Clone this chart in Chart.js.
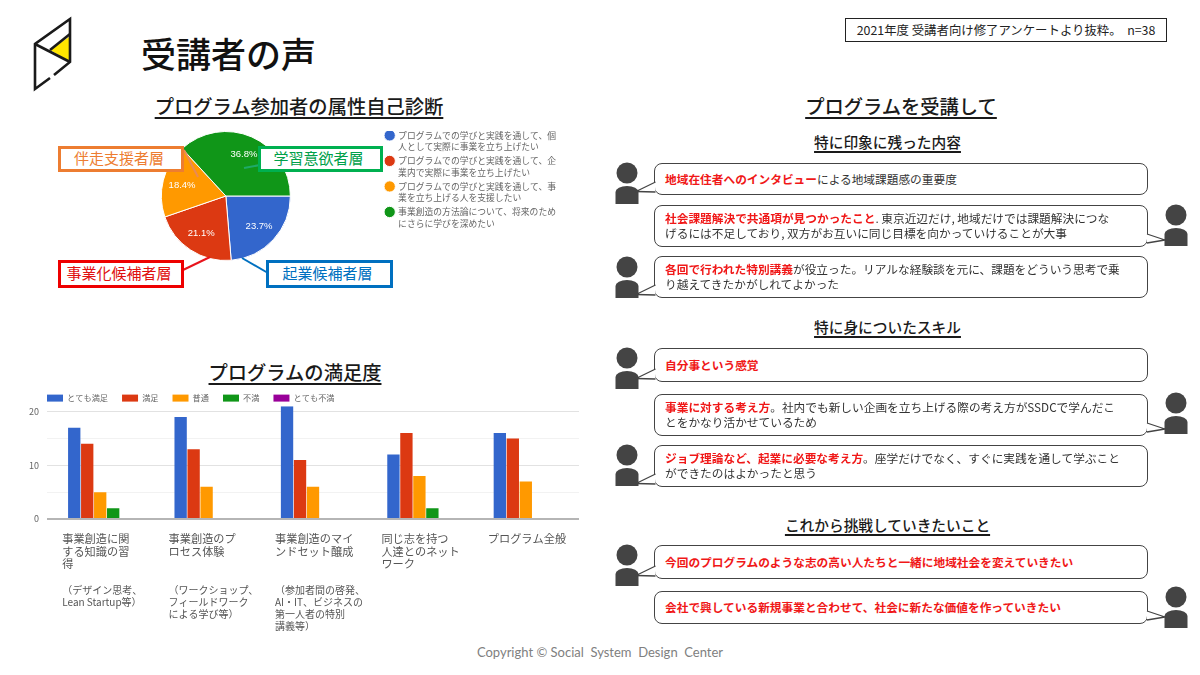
<!DOCTYPE html>
<html lang="ja">
<head>
<meta charset="utf-8">
<title>受講者の声</title>
<script src="https://cdn.jsdelivr.net/npm/chart.js@4/dist/chart.umd.min.js"></script>
<style>
  html, body { margin: 0; padding: 0; background: #fff; }
  body { position: relative; width: 1200px; height: 675px; overflow: hidden; font-family: "Noto Sans CJK JP", "Noto Sans", sans-serif; color: #222; }
  .abs { position: absolute; white-space: nowrap; }
  .head { text-decoration: underline; text-underline-offset: 3px; text-decoration-thickness: 1.5px; color: #1a1a1a; transform: translateX(-50%); }
  .h1 { font-size: 19.3px; line-height: 24px; font-weight: 500; }
  .h2 { font-size: 14.7px; line-height: 20px; font-weight: 500; }
  .tag { box-sizing: border-box; background: #fff; border: 3px solid; text-align: center; font-size: 15px; padding-right: 4px; }
  .bubble { position: absolute; left: 654px; width: 494px; box-sizing: border-box; background: #fff; border: 1.5px solid #444; border-radius: 8px; padding: 0 0 2px 10px; font-size: 11.7px; line-height: 15px; color: #333; display: flex; flex-direction: column; justify-content: center; white-space: nowrap; z-index: 2; }
  .bubble b { color: #f01818; font-weight: 700; }
  canvas { position: absolute; }
  svg { position: absolute; left: 0; top: 0; }
</style>
</head>
<body>
<!-- logo -->
<svg width="1200" height="675" style="z-index:1">
  <polygon points="69,37 50,50 69,61" fill="#ffe600"/>
  <g fill="none" stroke="#1a1a1a" stroke-width="2.6">
    <polyline points="54,75 70,62 70,19 35,44 35,89 50,78"/>
    <polyline points="35,44 70,62"/>
    <polyline points="70,34 50,50"/>
  </g>
</svg>
<div class="abs" style="left:141px;top:29px;font-size:35px;line-height:48px;font-weight:500;color:#111">受講者の声</div>
<div class="abs" style="left:845px;top:18px;width:322px;height:24px;box-sizing:border-box;border:1px solid #222;text-align:center;font-size:12.4px;line-height:22px">2021年度 受講者向け修了アンケートより抜粋。 &nbsp;n=38</div>

<div class="abs head h1" style="left:299px;top:94px">プログラム参加者の属性自己診断</div>
<div class="abs head h1" style="left:295px;top:360px">プログラムの満足度</div>
<div class="abs head h1" style="left:901px;top:94px">プログラムを受講して</div>

<canvas id="pieChart" style="left:69px;top:131px" width="497" height="130"></canvas>
<svg id="pieLines" width="1200" height="675" style="z-index:3">
  <g fill="none" stroke-width="2">
    <line x1="184" y1="150" x2="198" y2="177" stroke="#e98a56"/>
    <line x1="244" y1="168" x2="260" y2="165" stroke="#1faa6a"/>
    <line x1="183" y1="270" x2="210" y2="257" stroke="#e8141c"/>
    <line x1="242" y1="258" x2="268" y2="273" stroke="#0070c0"/>
  </g>
</svg>
<div class="abs tag" style="left:58px;top:146px;width:126px;height:26px;line-height:18px;border-color:#ed7d31;color:#ed7d31;z-index:4">伴走支援者層</div>
<div class="abs tag" style="left:258px;top:146px;width:125px;height:26px;line-height:18px;border-color:#00b050;color:#00a04a;z-index:4">学習意欲者層</div>
<div class="abs tag" style="left:58px;top:260px;width:126px;height:28px;line-height:20px;border-color:#ee0000;color:#e01010;z-index:4">事業化候補者層</div>
<div class="abs tag" style="left:266px;top:260px;width:127px;height:28px;line-height:20px;border-color:#0070c0;color:#0070c0;z-index:4">起業候補者層</div>

<canvas id="barChart" style="left:20px;top:374px" width="559" height="266"></canvas>

<div id="voices"></div>
<div class="abs" style="left:600px;top:641px;transform:translateX(-50%);font-family:Lato,sans-serif;font-size:13px;line-height:22px;color:#808080">Copyright © Social&nbsp; System&nbsp; Design&nbsp; Center</div>

<script>
// 円グラフ
const pieLabels = [
    ['プログラムでの学びと実践を通して、個', '人として実際に事業を立ち上げたい'],
    ['プログラムでの学びと実践を通して、企', '業内で実際に事業を立ち上げたい'],
    ['プログラムでの学びと実践を通して、事', '業を立ち上げる人を支援したい'],
    ['事業創造の方法論について、将来のため', 'にさらに学びを深めたい'],
];
const pieCounts = [9, 8, 7, 14];
const pieColors = ['#3366cc', '#dc3912', '#ff9900', '#109618'];

// 棒グラフ
const barCategories = [
    ['事業創造に関', 'する知識の習', '得'],
    ['事業創造のプ', 'ロセス体験'],
    ['事業創造のマイ', 'ンドセット醸成'],
    ['同じ志を持つ', '人達とのネット', 'ワーク'],
    ['プログラム全般'],
];
const barNotes = [
    ['（デザイン思考、', 'Lean Startup等）'],
    ['（ワークショップ、', 'フィールドワーク', 'による学び等）'],
    ['（参加者間の啓発、', 'AI・IT、ビジネスの', '第一人者の特別', '講義等）'],
    [],
    [],
];
const veryGood = [17, 19, 21, 12, 16];
const good = [14, 13, 11, 16, 15];
const normal = [5, 6, 6, 8, 7];
const bad = [2, 0, 0, 2, 0];
const veryBad = [0, 0, 0, 0, 0];
const barYTicks = [0, 10, 20];

// 吹き出し
const sections = [
    ['特に印象に残った内容', 132],
    ['特に身についたスキル', 317],
    ['これから挑戦していきたいこと', 515],
];
const voices = [
    { side: 'L', top: 163, bottom: 195, head: 173, red: '地域在住者へのインタビュー', text: 'による地域課題感の重要度' },
    { side: 'R', top: 205, bottom: 247, head: 215, red: '社会課題解決で共通項が見つかったこと', text: '. 東京近辺だけ, 地域だけでは課題解決につな<br>げるには不足しており, 双方がお互いに同じ目標を向かっていけることが大事' },
    { side: 'L', top: 256, bottom: 298, head: 267, red: '各回で行われた特別講義', text: 'が役立った。リアルな経験談を元に、課題をどういう思考で乗<br>り越えてきたかがしれてよかった' },
    { side: 'L', top: 348, bottom: 382, head: 358, red: '自分事という感覚', text: '' },
    { side: 'R', top: 394, bottom: 436, head: 403, red: '事業に対する考え方', text: '。社内でも新しい企画を立ち上げる際の考え方がSSDCで学んだこ<br>とをかなり活かせているため' },
    { side: 'L', top: 445, bottom: 487, head: 455, red: 'ジョブ理論など、起業に必要な考え方', text: '。座学だけでなく、すぐに実践を通して学ぶこと<br>ができたのはよかったと思う' },
    { side: 'L', top: 545, bottom: 579, head: 555, red: '今回のプログラムのような志の高い人たちと一緒に地域社会を変えていきたい', text: '' },
    { side: 'R', top: 591, bottom: 624, head: 597, red: '会社で興している新規事業と合わせて、社会に新たな価値を作っていきたい', text: '' },
];

Chart.defaults.font.family = '"Noto Sans CJK JP", "Noto Sans", sans-serif';
Chart.defaults.animation = false;

// 円の中のパーセント表示
const piePercentPlugin = {
    id: 'piePercent',
    afterLayout(chart) {
        chart.legend.top = -3;
    },
    afterDatasetsDraw(chart) {
        const ctx = chart.ctx;
        const total = pieCounts.reduce((a, b) => a + b, 0);
        chart.getDatasetMeta(0).data.forEach((arc, i) => {
            const angle = (arc.startAngle + arc.endAngle) / 2;
            const r = arc.outerRadius * 0.7;
            ctx.save();
            ctx.fillStyle = '#fff';
            ctx.font = '9.5px "Liberation Sans", sans-serif';
            ctx.textAlign = 'center';
            ctx.textBaseline = 'middle';
            ctx.fillText((pieCounts[i] / total * 100).toFixed(1) + '%', arc.x + Math.cos(angle) * r, arc.y + Math.sin(angle) * r);
            ctx.restore();
        });
    }
};

new Chart(document.getElementById('pieChart'), {
    type: 'pie',
    data: {
        labels: pieLabels,
        datasets: [{ data: pieCounts, backgroundColor: pieColors, borderColor: '#fff', borderWidth: 1 }]
    },
    options: {
        responsive: false,
        rotation: 90,
        layout: { padding: 0 },
        plugins: {
            legend: {
                position: 'right',
                align: 'start',
                labels: {
                    usePointStyle: true,
                    pointStyle: 'circle',
                    boxWidth: 8,
                    boxHeight: 8,
                    padding: 3,
                    color: '#666',
                    font: { size: 8.8, lineHeight: 1.28 }
                }
            },
            tooltip: { enabled: false }
        }
    },
    plugins: [piePercentPlugin]
});

// 凡例の位置と、カテゴリ下の補足テキスト
const barExtrasPlugin = {
    id: 'barExtras',
    afterLayout(chart) {
        chart.legend.left = 13;
        chart.legend.top = 6;
        chart.legend.bottom = 37;
    },
    afterDraw(chart) {
        const ctx = chart.ctx;
        const xScale = chart.scales.x;
        ctx.save();
        ctx.fillStyle = '#555';
        ctx.font = '10px "Noto Sans CJK JP", sans-serif';
        ctx.textBaseline = 'middle';
        barNotes.forEach((lines, i) => {
            lines.forEach((line, j) => {
                ctx.fillText(line, xScale.getPixelForValue(i) - 38, chart.chartArea.bottom + 71 + j * 12);
            });
        });
        ctx.restore();
    }
};

new Chart(document.getElementById('barChart'), {
    type: 'bar',
    data: {
        labels: barCategories,
        datasets: [
            { label: 'とても満足', data: veryGood, backgroundColor: '#3366cc' },
            { label: '満足', data: good, backgroundColor: '#dc3912' },
            { label: '普通', data: normal, backgroundColor: '#ff9900' },
            { label: '不満', data: bad, backgroundColor: '#109618' },
            { label: 'とても不満', data: veryBad, backgroundColor: '#990099' },
        ]
    },
    options: {
        responsive: false,
        layout: { padding: 0 },
        datasets: { bar: { categoryPercentage: 0.61, barPercentage: 0.95 } },
        scales: {
            x: {
                grid: { display: false },
                border: { display: false },
                afterFit(scale) {
                    scale.height = 121;
                    scale.paddingLeft = 0;
                    scale.paddingRight = 0;
                },
                ticks: {
                    autoSkip: false,
                    maxRotation: 0,
                    align: 'start',
                    labelOffset: -38,
                    padding: 5,
                    color: '#555',
                    font: { size: 11.2, lineHeight: 1.15 }
                }
            },
            y: {
                min: 0,
                max: 21,
                border: { display: false },
                afterFit(scale) { scale.width = 27; },
                grid: {
                    drawTicks: false,
                    color: (c) => c.tick.value === 0 ? '#b5b5b5' : barYTicks.includes(c.tick.value) ? '#e2e2e2' : '#f2f2f2',
                    lineWidth: (c) => c.tick.value === 0 ? 2 : 1
                },
                ticks: {
                    stepSize: 5,
                    includeBounds: false,
                    padding: 8,
                    color: '#666',
                    font: { size: 9 },
                    callback: (v) => barYTicks.includes(v) ? v : ''
                }
            }
        },
        plugins: {
            legend: {
                position: 'top',
                align: 'start',
                labels: { boxWidth: 16, boxHeight: 7, padding: 14, color: '#666', font: { size: 8.2 } }
            },
            tooltip: { enabled: false }
        }
    },
    plugins: [barExtrasPlugin]
});

// 右側の吹き出しと人物アイコン
const voicesEl = document.getElementById('voices');
let html = '';
sections.forEach(([title, top]) => {
    html += `<div class="abs head h2" style="left:887.5px;top:${top}px">${title}</div>`;
});
let shapes = '';
let tails = '';
voices.forEach((v) => {
    html += `<div class="bubble" style="top:${v.top}px;height:${v.bottom - v.top}px"><div><b>${v.red}</b>${v.text}</div></div>`;
    const cx = v.side === 'L' ? 627 : 1176;
    const bodyTop = v.head + 13;
    shapes += `<circle cx="${cx}" cy="${v.head}" r="10.5" fill="#444"/>`;
    shapes += `<path d="M${cx - 11.5} ${bodyTop + 18} v-12 a11.5 6 0 0 1 23 0 v12 z" fill="#444"/>`;
    const tipX = v.side === 'L' ? 636 : 1165;
    const baseX = v.side === 'L' ? 655.5 : 1147;
    const y1 = v.bottom - 13, y2 = v.bottom - (v.side === 'L' ? 3.5 : 7), y3 = v.bottom - (v.side === 'L' ? 3 : 4);
    tails += `<polygon points="${baseX},${y1} ${tipX},${y2} ${baseX},${y3}" fill="#fff"/>`;
    tails += `<polyline points="${baseX},${y1} ${tipX},${y2} ${baseX},${y3}" fill="none" stroke="#444" stroke-width="1.3"/>`;
});
voicesEl.innerHTML = html + `<svg width="1200" height="675" style="z-index:1">${shapes}</svg><svg width="1200" height="675" style="z-index:3">${tails}</svg>`;
</script>
</body>
</html>
